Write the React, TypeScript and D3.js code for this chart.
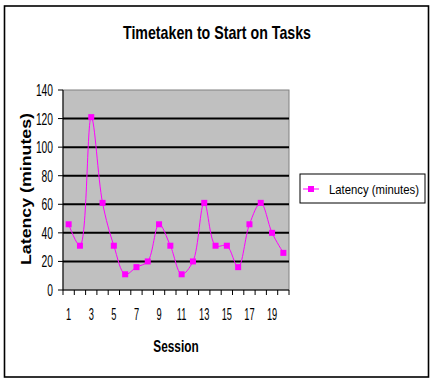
import React from "react";
import * as d3 from "d3";

const sessions = d3.range(1, 21);
const latency = [46, 31, 121, 61, 31, 11, 16, 20, 46, 31, 11, 20, 61, 31, 31, 16, 46, 61, 40, 26];
const yTicks = [0, 20, 40, 60, 80, 100, 120, 140];
const xLabelSessions = [1, 3, 5, 7, 9, 11, 13, 15, 17, 19];
const title = "Timetaken to Start on Tasks";
const seriesName = "Latency (minutes)";

const W = 433, H = 382;
const plot = { l: 63, r: 289, t: 90, b: 290 };
const font = "'Liberation Sans', Arial, sans-serif";
const magenta = "#ff00ff";

function Txt({ x, y, sx = 1, anchor = "middle", size, weight = "normal", children, len }: any) {
  return (
    <text
      transform={`translate(${x},${y}) scale(${sx},1)`}
      textAnchor={anchor}
      fontSize={size}
      fontWeight={weight}
      fontFamily={font}
      fill="#000"
      textLength={len}
      lengthAdjust={len ? "spacingAndGlyphs" : undefined}
    >
      {children}
    </text>
  );
}

export default function App() {
  const x = d3.scaleBand<number>().domain(sessions).range([plot.l, plot.r]);
  const y = d3.scaleLinear().domain([0, 140]).range([plot.b, plot.t]);
  const cx = (s: number) => (x(s) as number) + x.bandwidth() / 2;
  const line = d3
    .line<number>()
    .x((_, i) => cx(sessions[i]))
    .y((d) => y(d))
    .curve(d3.curveCatmullRom.alpha(0.5));
  const boundaries = sessions.map((s) => x(s) as number).concat([plot.r]);

  return (
    <svg width={W} height={H} style={{ position: "absolute", left: 0, top: 0, background: "#fff" }}>
      <rect x={4.5} y={6} width={424} height={371} fill="#fff" stroke="#000" strokeWidth={1.6} />
      <Txt x={217} y={39} size={19} weight="bold" len={188}>{title}</Txt>

      <rect x={plot.l} y={plot.t} width={plot.r - plot.l} height={plot.b - plot.t} fill="#c0c0c0" stroke="#808080" strokeWidth={1} />
      {yTicks.filter((t) => t > 0 && t < 140).map((t) => (
        <line key={t} x1={plot.l} x2={plot.r} y1={y(t)} y2={y(t)} stroke="#000" strokeWidth={2} />
      ))}
      <line x1={plot.l} x2={plot.l} y1={plot.t} y2={plot.b} stroke="#000" strokeWidth={1} />
      <line x1={plot.l} x2={plot.r} y1={plot.b} y2={plot.b} stroke="#000" strokeWidth={1} />
      {yTicks.map((t) => (
        <g key={t}>
          <line x1={plot.l - 5} x2={plot.l} y1={y(t)} y2={y(t)} stroke="#000" strokeWidth={1} />
          <Txt x={53} y={y(t) + 6} sx={0.64} anchor="end" size={16}>{t}</Txt>
        </g>
      ))}
      {boundaries.map((b, i) => (
        <line key={i} x1={b} x2={b} y1={plot.b} y2={plot.b + 5} stroke="#000" strokeWidth={1} />
      ))}
      {xLabelSessions.map((s) => (
        <Txt key={s} x={cx(s)} y={320} sx={0.58} size={16}>{s}</Txt>
      ))}
      <Txt x={176} y={352} sx={0.74} size={16} weight="bold">Session</Txt>
      <g transform={`translate(31,189) rotate(-90)`}>
        <Txt x={0} y={0} size={15} weight="bold" len={152}>{seriesName}</Txt>
      </g>

      <path d={line(latency) as string} fill="none" stroke={magenta} strokeWidth={1} />
      {latency.map((v, i) => (
        <rect key={i} x={cx(sessions[i]) - 3} y={y(v) - 3} width={6} height={6} fill={magenta} />
      ))}

      <rect x={300} y={174} width={125} height={29} fill="#fff" stroke="#000" strokeWidth={1} />
      <line x1={303} x2={319} y1={189} y2={189} stroke={magenta} strokeWidth={1} />
      <rect x={308} y={186} width={6} height={6} fill={magenta} />
      <Txt x={329} y={194} anchor="start" size={13} len={90}>{seriesName}</Txt>
    </svg>
  );
}
